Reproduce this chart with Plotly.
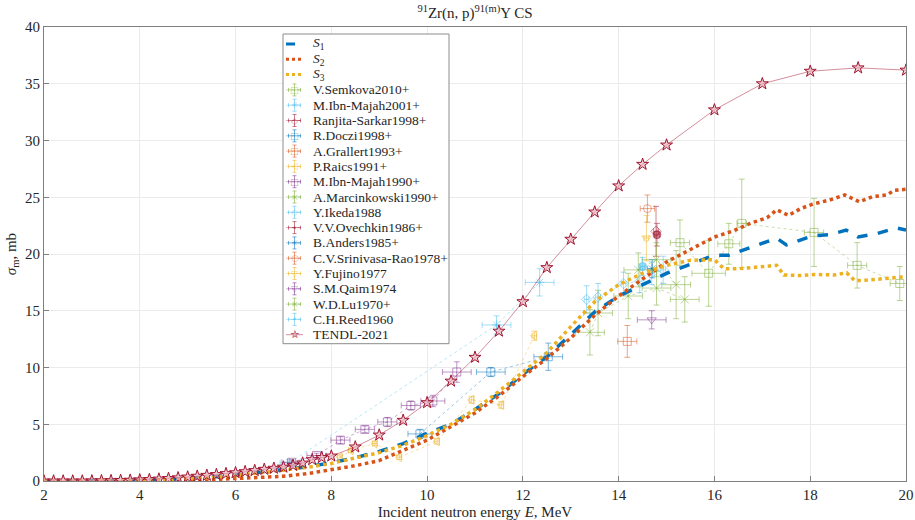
import plotly.graph_objects as go

# ---------------- model curves ----------------
s1_E = [2, 2.5, 3, 3.5, 4, 4.5, 5, 5.5, 6, 6.5, 7, 7.5, 8, 8.5, 9, 9.5, 10, 10.5, 11, 11.5, 12,
        12.5, 13, 13.5, 14, 14.5, 15, 15.5, 16, 16.3, 16.6, 17, 17.3, 17.5, 17.8, 18.05, 18.4,
        18.75, 19.0, 19.4, 19.8, 20]
s1_v = [0, 0, 0.01, 0.03, 0.07, 0.13, 0.22, 0.35, 0.52, 0.75, 1.0, 1.25, 1.6, 2.05, 2.6, 3.3,
        4.2, 5.0, 6.3, 7.7, 9.4, 10.95, 12.9, 14.9, 16.3, 17.3, 18.3, 19.1, 19.9, 19.9, 20.35,
        21.0, 21.4, 20.8, 21.2, 21.6, 21.7, 22.1, 21.5, 21.8, 22.3, 22.1]

s2_E = [2, 2.5, 3, 3.5, 4, 4.5, 5, 5.5, 6, 6.5, 7, 7.5, 8, 8.5, 9, 9.5, 10, 10.5, 11, 11.5, 12,
        12.5, 13, 13.5, 14, 14.5, 15, 15.5, 16, 16.4, 16.75, 17.1, 17.3, 17.55, 17.8, 18.05,
        18.4, 18.72, 19.03, 19.3, 19.6, 19.75, 20]
s2_v = [0, 0, 0, 0, 0.01, 0.03, 0.07, 0.12, 0.2, 0.3, 0.42, 0.65, 1.0, 1.35, 1.8, 2.7, 3.6,
        4.8, 6.0, 7.5, 9.2, 10.8, 12.6, 14.6, 16.3, 17.8, 19.3, 20.4, 21.5, 22.05, 22.7, 23.2,
        23.9, 23.4, 24.0, 24.4, 24.75, 25.2, 24.6, 25.05, 25.2, 25.6, 25.7]

s3_E = [2, 2.5, 3, 3.5, 4, 4.5, 5, 5.5, 6, 6.5, 7, 7.5, 8, 8.5, 9, 9.5, 10, 10.5, 11, 11.5, 12,
        12.5, 13, 13.5, 14, 14.5, 15, 15.5, 16.0, 16.2, 16.5, 17.0, 17.3, 17.45, 17.8, 18.1,
        18.5, 18.76, 18.93, 19.2, 19.6, 20]
s3_v = [0, 0, 0, 0.01, 0.04, 0.1, 0.18, 0.3, 0.48, 0.7, 0.95, 1.2, 1.55, 2.0, 2.5, 3.15, 4.0,
        5.0, 6.3, 7.9, 9.6, 11.3, 13.6, 15.8, 17.3, 18.3, 19.0, 19.45, 19.5, 18.7, 18.7, 18.9,
        19.0, 18.15, 18.1, 18.2, 18.15, 18.35, 17.65, 17.7, 17.85, 18.0]

tendl_E = [2.0, 2.2, 2.4, 2.6, 2.8, 3.0, 3.2, 3.4, 3.6, 3.8, 4.0, 4.2, 4.4, 4.6, 4.8, 5.0, 5.2,
           5.4, 5.6, 5.8, 6.0, 6.2, 6.4, 6.6, 6.8, 7.0, 7.2, 7.4, 7.6, 7.8, 8.0, 8.5, 9.0, 9.5,
           10.0, 10.5, 11.0, 11.5, 12.0, 12.5, 13.0, 13.5, 14.0, 14.5, 15.0, 16.0, 17.0, 18.0,
           19.0, 20.0]
tendl_v = [0, 0, 0, 0, 0, 0.01, 0.02, 0.03, 0.05, 0.07, 0.1, 0.13, 0.17, 0.22, 0.28, 0.35, 0.42,
           0.5, 0.57, 0.65, 0.73, 0.82, 0.92, 1.03, 1.12, 1.22, 1.38, 1.58, 1.88, 2.07, 2.2, 3.0,
           4.05, 5.35, 6.9, 8.8, 10.9, 13.2, 15.8, 18.8, 21.3, 23.7, 26.0, 27.9, 29.6, 32.7,
           35.0, 36.1, 36.4, 36.2]

# ---------------- experimental data ----------------
semkova_E = [15.28, 15.88, 16.3, 16.57, 18.08, 18.98, 19.87]
semkova_v = [21.0, 18.3, 20.9, 22.7, 21.9, 19.0, 17.4]
semkova_dE = [0.2, 0.35, 0.23, 0.1, 0.2, 0.2, 0.2]
semkova_dv = [2.0, 2.9, 1.8, 3.9, 3.0, 2.0, 1.5]

ibnmajah01_E = [7.13, 11.45, 12.35]
ibnmajah01_v = [1.6, 13.75, 17.5]
ibnmajah01_dE = [0.2, 0.3, 0.3]
ibnmajah01_dv = [0.3, 0.8, 1.2]

sarkar_E = [14.78]
sarkar_v = [22.0]
sarkar_dE = [0.05]
sarkar_dv = [2.2]

doczi_E = [9.85, 11.33, 12.53]
doczi_v = [4.15, 9.6, 10.95]
doczi_dE = [0.25, 0.3, 0.3]
doczi_dv = [0.4, 0.4, 1.2]

grallert_E = [14.18]
grallert_v = [12.3]
grallert_dE = [0.2]
grallert_dv = [1.4]

raics_E = [8.18, 8.41, 8.91, 9.42, 10.21, 10.93, 11.55, 12.24]
raics_v = [2.1, 2.7, 3.3, 2.1, 3.5, 7.15, 6.7, 12.8]
raics_dE = [0.05] * 8
raics_dv = [0.2, 0.2, 0.2, 0.2, 0.25, 0.3, 0.3, 0.4]

ibnmajah90_E = [7.17, 7.69, 8.19, 8.7, 9.17, 9.66, 10.12, 10.62]
ibnmajah90_v = [1.65, 2.25, 3.6, 4.55, 5.2, 6.65, 7.05, 9.6]
ibnmajah90_dE = [0.2, 0.2, 0.2, 0.2, 0.2, 0.2, 0.25, 0.3]
ibnmajah90_dv = [0.2, 0.2, 0.3, 0.3, 0.4, 0.4, 0.5, 0.9]

marcinkowski_E = [13.4, 13.57, 14.2, 14.79, 15.38]
marcinkowski_v = [13.1, 14.8, 16.3, 17.0, 16.0]
marcinkowski_dE = [0.3, 0.3, 0.3, 0.3, 0.3]
marcinkowski_dv = [2.0, 2.0, 2.0, 1.5, 2.0]

ikeda_E = [13.33, 13.57, 14.1, 14.44, 14.69, 14.93]
ikeda_v = [16.0, 16.2, 17.4, 17.6, 18.3, 18.6]
ikeda_dE = [0.05] * 6
ikeda_dv = [1.2, 1.2, 1.0, 1.0, 1.0, 1.2]

ovechkin_E = [14.8]
ovechkin_v = [21.7]
ovechkin_dE = [0.05]
ovechkin_dv = [1.0]

anders_E = [14.7]
anders_v = [18.7]
anders_dE = [0.1]
anders_dv = [0.8]

srinivasa_E = [14.6]
srinivasa_v = [24.0]
srinivasa_dE = [0.15]
srinivasa_dv = [1.2]

fujino_E = [14.58]
fujino_v = [21.4]
fujino_dE = [0.05]
fujino_dv = [2.0]

qaim_E = [14.69]
qaim_v = [14.2]
qaim_dE = [0.3]
qaim_dv = [0.8]

lu_E = [14.41, 14.79, 15.2]
lu_v = [18.6, 19.5, 17.3]
lu_dE = [0.3, 0.3, 0.3]
lu_dv = [1.5, 1.5, 3.0]

reed_E = [14.5]
reed_v = [18.9]
reed_dE = [0.05]
reed_dv = [0.8]

# MATLAB default colour order
C_BLUE = (0, 114, 189)
C_ORANGE = (217, 83, 25)
C_YELLOW = (237, 177, 32)
C_PURPLE = (126, 47, 142)
C_GREEN = (119, 172, 48)
C_LBLUE = (77, 190, 238)
C_RED = (162, 20, 47)

def rgba(c, a):
    return "rgba(%d,%d,%d,%.2f)" % (c[0], c[1], c[2], a)

# (label, E, v, dE, dv, colour, plotly symbol, legend glyph)
exp_sets = [
    ("V.Semkova2010+", semkova_E, semkova_v, semkova_dE, semkova_dv, C_GREEN, "square-open", "□"),
    ("M.Ibn-Majah2001+", ibnmajah01_E, ibnmajah01_v, ibnmajah01_dE, ibnmajah01_dv, C_LBLUE, "asterisk-open", "✳"),
    ("Ranjita-Sarkar1998+", sarkar_E, sarkar_v, sarkar_dE, sarkar_dv, C_RED, "diamond-open", "◇"),
    ("R.Doczi1998+", doczi_E, doczi_v, doczi_dE, doczi_dv, C_BLUE, "square-open", "□"),
    ("A.Grallert1993+", grallert_E, grallert_v, grallert_dE, grallert_dv, C_ORANGE, "square-open", "□"),
    ("P.Raics1991+", raics_E, raics_v, raics_dE, raics_dv, C_YELLOW, "triangle-left-open", "◁"),
    ("M.Ibn-Majah1990+", ibnmajah90_E, ibnmajah90_v, ibnmajah90_dE, ibnmajah90_dv, C_PURPLE, "square-open", "□"),
    ("A.Marcinkowski1990+", marcinkowski_E, marcinkowski_v, marcinkowski_dE, marcinkowski_dv, C_GREEN, "x-thin-open", "×"),
    ("Y.Ikeda1988", ikeda_E, ikeda_v, ikeda_dE, ikeda_dv, C_LBLUE, "diamond-open", "◇"),
    ("V.V.Ovechkin1986+", ovechkin_E, ovechkin_v, ovechkin_dE, ovechkin_dv, C_RED, "circle", "•"),
    ("B.Anders1985+", anders_E, anders_v, anders_dE, anders_dv, C_BLUE, "asterisk-open", "✳"),
    ("C.V.Srinivasa-Rao1978+", srinivasa_E, srinivasa_v, srinivasa_dE, srinivasa_dv, C_ORANGE, "circle-open", "○"),
    ("Y.Fujino1977", fujino_E, fujino_v, fujino_dE, fujino_dv, C_YELLOW, "triangle-down-open", "▽"),
    ("S.M.Qaim1974", qaim_E, qaim_v, qaim_dE, qaim_dv, C_PURPLE, "triangle-down-open", "▽"),
    ("W.D.Lu1970+", lu_E, lu_v, lu_dE, lu_dv, C_GREEN, "x-thin-open", "×"),
    ("C.H.Reed1960", reed_E, reed_v, reed_dE, reed_dv, C_LBLUE, "circle", "•"),
]

fig = go.Figure()

for name, E, v, dE, dv, col, sym, _g in exp_sets:
    c = rgba(col, 0.5)
    fig.add_trace(go.Scatter(
        x=E, y=v, name=name, mode="lines+markers", showlegend=False,
        line=dict(color=rgba(col, 0.45), width=0.9, dash="dot"),
        marker=dict(symbol=sym, size=8, color=c, line=dict(color=c, width=1)),
        error_x=dict(type="data", array=dE, color=c, thickness=1, width=3),
        error_y=dict(type="data", array=dv, color=c, thickness=1, width=3),
    ))

fig.add_trace(go.Scatter(x=s1_E, y=s1_v, name="S1", mode="lines", showlegend=False,
                         line=dict(color=rgba(C_BLUE, 1), width=3.5, dash="dash")))
fig.add_trace(go.Scatter(x=s2_E, y=s2_v, name="S2", mode="lines", showlegend=False,
                         line=dict(color=rgba(C_ORANGE, 1), width=3.5, dash="dot")))
fig.add_trace(go.Scatter(x=s3_E, y=s3_v, name="S3", mode="lines", showlegend=False,
                         line=dict(color=rgba(C_YELLOW, 1), width=3.5, dash="dot")))
fig.add_trace(go.Scatter(x=tendl_E, y=tendl_v, name="TENDL-2021", mode="lines+markers",
                         showlegend=False,
                         line=dict(color=rgba(C_RED, 0.6), width=0.8),
                         marker=dict(symbol="star", size=9, color="rgba(230,170,185,0.6)",
                                     line=dict(color=rgba(C_RED, 1), width=1))))

FONT = "Liberation Serif"

# ---------------- compact legend (layout elements in paper coordinates) ----------------
L, R, T, B = 44, 906, 27, 481
def px2x(px):
    return (px - L) / (R - L)
def py2y(py):
    return (B - py) / (B - T)

LEG_X0, LEG_X1, LEG_Y0 = 283, 449, 34
ROW0, ROW_H = 44, 15.3
GL0, GL1, TXT = 286, 303, 311
n_rows = 3 + len(exp_sets) + 1
LEG_Y1 = ROW0 + (n_rows - 1) * ROW_H + 9

shapes = [dict(type="rect", xref="paper", yref="paper", layer="above",
               x0=px2x(LEG_X0), x1=px2x(LEG_X1), y0=py2y(LEG_Y1), y1=py2y(LEG_Y0),
               fillcolor="white", line=dict(color="#8c8c8c", width=1))]
annotations = []

def seg(x0, y0, x1, y1, color, width=1, dash="solid"):
    shapes.append(dict(type="line", xref="paper", yref="paper", layer="above",
                       x0=px2x(x0), x1=px2x(x1), y0=py2y(y0), y1=py2y(y1),
                       line=dict(color=color, width=width, dash=dash)))

def label(row_y, text):
    annotations.append(dict(xref="paper", yref="paper", x=px2x(TXT), y=py2y(row_y),
                            xanchor="left", yanchor="middle", text=text, showarrow=False,
                            font=dict(family=FONT, size=13.5, color="#262626")))

def glyph(row_y, ch, color, size=10):
    annotations.append(dict(xref="paper", yref="paper", x=px2x((GL0 + GL1) / 2), y=py2y(row_y),
                            xanchor="center", yanchor="middle", text=ch, showarrow=False,
                            font=dict(family="DejaVu Sans", size=size, color=color)))

row = 0
for lab, col, dash in [("<i>S</i><sub>1</sub>", C_BLUE, "dash"),
                       ("<i>S</i><sub>2</sub>", C_ORANGE, "dot"),
                       ("<i>S</i><sub>3</sub>", C_YELLOW, "dot")]:
    yy = ROW0 + row * ROW_H
    seg(GL0, yy, GL1, yy, rgba(col, 1), 3, dash)
    label(yy, lab)
    row += 1

for name, E, v, dE, dv, col, sym, g in exp_sets:
    yy = ROW0 + row * ROW_H
    c = rgba(col, 0.55)
    xc = (GL0 + GL1) / 2
    seg(GL0, yy, GL1, yy, rgba(col, 0.45), 0.8, "dot")
    seg(xc, yy - 6, xc, yy + 6, c, 1)
    seg(xc - 2, yy - 6, xc + 2, yy - 6, c, 1)
    seg(xc - 2, yy + 6, xc + 2, yy + 6, c, 1)
    seg(xc - 6, yy, xc + 6, yy, c, 1)
    seg(xc - 6, yy - 2, xc - 6, yy + 2, c, 1)
    seg(xc + 6, yy - 2, xc + 6, yy + 2, c, 1)
    glyph(yy, g, c, 9)
    label(yy, name)
    row += 1

yy = ROW0 + row * ROW_H
seg(GL0, yy, GL1, yy, rgba(C_RED, 0.6), 0.8)
glyph(yy, "★", "rgba(230,170,185,0.9)", 11)
glyph(yy, "☆", rgba(C_RED, 1), 11)
label(yy, "TENDL-2021")

axis_common = dict(showline=True, linecolor="#7f7f7f", linewidth=1, mirror=True,
                   ticks="inside", ticklen=5, tickcolor="#7f7f7f", automargin=False,
                   showgrid=True, gridcolor="#ebebeb", gridwidth=1, zeroline=False,
                   tickfont=dict(family=FONT, size=15, color="#262626"))

fig.update_layout(
    width=915, height=520,
    margin=dict(l=L, r=915 - R, t=T, b=520 - B),
    paper_bgcolor="white", plot_bgcolor="white",
    font=dict(family=FONT, size=14, color="#262626"),
    title=dict(text="<sup>91</sup>Zr(n, p)<sup>91(m)</sup>Y CS", x=0.5, xref="paper",
               y=1 - 13 / 520, yanchor="middle", font=dict(family=FONT, size=15, color="#262626")),
    xaxis=dict(range=[2, 20], dtick=2, tick0=2,
               title=dict(text="Incident neutron energy <i>E</i>, MeV", standoff=6,
                          font=dict(family=FONT, size=15)), **axis_common),
    yaxis=dict(range=[0, 40], dtick=5,
               title=dict(text="<i>σ</i><sub>m</sub>, mb", standoff=4,
                          font=dict(family=FONT, size=15)), **axis_common),
    shapes=shapes,
    annotations=annotations,
    showlegend=False,
)

fig.write_html("out.html")
